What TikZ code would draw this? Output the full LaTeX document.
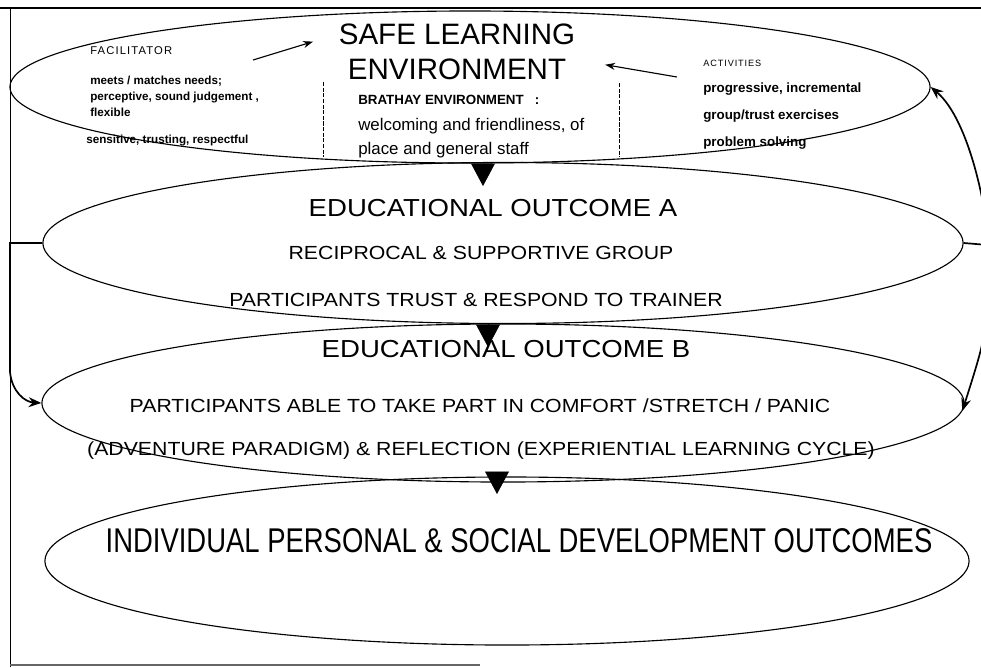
\documentclass[tikz,border=0pt]{standalone}
\usepackage{fontspec}
\setmainfont{Liberation Sans}
\newfontfamily\widefont[FakeStretch=1.12]{Liberation Sans}
\newfontfamily\narrowfont[FakeStretch=0.8]{Liberation Sans}
\usetikzlibrary{calc,arrows,arrows.meta,positioning,shapes.geometric}

\begin{document}
\begin{tikzpicture}[x=0.025cm,y=-0.025cm]
	\tikzstyle{oval} = [draw,ellipse,line width=0.8pt,inner sep=0pt]
	\tikzstyle{txt} = [inner sep=0pt,anchor=base]
	\tikzstyle{note} = [inner sep=0pt,anchor=base west]
	\tikzstyle{title} = [txt,font=\fontsize{21}{24}\selectfont]
	\tikzstyle{head} = [txt,font=\widefont\fontsize{17.5}{20}\selectfont]
	\tikzstyle{sub} = [txt,font=\widefont\fontsize{13.5}{16}\selectfont]
	\tikzstyle{small} = [note,font=\bfseries\fontsize{8.3}{10}\selectfont]
	\tikzstyle{caps} = [note,font=\addfontfeature{LetterSpace=10}\fontsize{8}{10}\selectfont]
	\tikzstyle{link} = [->,>={Stealth[length=9pt,width=7pt]},very thick]
	\tikzstyle{point} = [->,>={Stealth[length=7pt,width=5pt]},thick]
	\tikzstyle{drop} = [-{Triangle[width=17pt,length=16pt]}]
	\tikzstyle{sep} = [dash pattern=on 3pt off 1pt,thin]
	\useasboundingbox (0,0) rectangle (981,667);

	\draw[line width=1.6pt] (0,8) -- (981,8);
	\draw[line width=0.6pt] (10,8) -- (10,667);
	\draw[line width=0.8pt,black!60] (10,665) -- (480,665);

	\node[oval,minimum width=23cm,minimum height=3.8cm] (Safe) at (470,87) {};
	\node[oval,minimum width=23cm,minimum height=4.025cm] (OutA) at (503,243) {};
	\node[oval,minimum width=23.05cm,minimum height=3.95cm] (OutB) at (503,403) {};
	\node[oval,minimum width=23.1cm,minimum height=4.2cm] (OutC) at (507,561) {};

	\node[title] (SafeA) at (457,44) {SAFE LEARNING};
	\node[title] (SafeB) at (457,79) {ENVIRONMENT};
	\node[note,font=\bfseries\fontsize{9.5}{11}\selectfont] (Brathay) at (358,104) {BRATHAY ENVIRONMENT~~~:};
	\node[note,font=\fontsize{12}{14}\selectfont] (Welcome) at (358,130) {welcoming and friendliness, of};
	\node[note,font=\fontsize{12}{14}\selectfont] (Place) at (358,154) {place and general staff};

	\node[caps] (Facilitator) at (90,54) {FACILITATOR};
	\node[small] (Meets) at (90,84) {meets / matches needs;};
	\node[small] (Perceptive) at (90,100) {perceptive, sound judgement ,};
	\node[small] (Flexible) at (90,116) {flexible};
	\node[small] (Sensitive) at (86,143) {sensitive, trusting, respectful};

	\node[caps,font=\addfontfeature{LetterSpace=10}\fontsize{6.5}{8}\selectfont] (Activities) at (703,66) {ACTIVITIES};
	\node[small,font=\bfseries\fontsize{9.5}{11}\selectfont] (Progressive) at (703,92) {progressive, incremental};
	\node[small,font=\bfseries\fontsize{9.5}{11}\selectfont] (Group) at (703,119) {group/trust exercises};
	\node[small,font=\bfseries\fontsize{9.5}{11}\selectfont] (Problem) at (703,146) {problem solving};

	\node[head] (HeadA) at (493,216) {EDUCATIONAL OUTCOME A};
	\node[sub] (Reciprocal) at (481,259) {RECIPROCAL \& SUPPORTIVE GROUP};
	\node[sub] (Trust) at (476,306) {PARTICIPANTS TRUST \& RESPOND TO TRAINER};

	\node[head] (HeadB) at (506,357) {EDUCATIONAL OUTCOME B};
	\node[sub] (Able) at (480,412) {PARTICIPANTS ABLE TO TAKE PART IN COMFORT /STRETCH / PANIC};
	\node[sub] (Adventure) at (481,455) {(ADVENTURE PARADIGM) \& REFLECTION (EXPERIENTIAL LEARNING CYCLE)};

	\node[txt,font=\narrowfont\fontsize{24.4}{28}\selectfont] (Individual) at (519,552) {INDIVIDUAL PERSONAL \& SOCIAL DEVELOPMENT OUTCOMES};

	\draw[sep] (323,82) -- (323,157);
	\draw[sep] (619,83) -- (619,157);

	\coordinate (FacTail) at (253,60);
	\coordinate (ActTail) at (677,77);
	\draw[point,shorten >=19pt] (FacTail) -- (SafeA.west);
	\draw[point,shorten >=28pt] (ActTail) -- (SafeB.north east);

	\coordinate (T1) at (483,186);
	\coordinate (T2) at (488,347);
	\coordinate (T3) at (497,494);
	\draw[drop] (Safe.south -| T1) -- (T1);
	\draw[drop] (OutA.south -| T2) -- (T2);
	\draw[drop] (OutB.south -| T3) -- (T3);

	\coordinate (RA) at (988,245);
	\coordinate (LB) at (10,372);
	\draw[very thick] (OutA.east) -- (RA);
	\draw[link] (RA) .. controls (988,215) and (970,120) .. (Safe.east);
	\draw[link] (RA) .. controls (988,330) .. (OutB.-1);
	\draw[link] (OutA.west) -| (LB) .. controls (12,392) and (25,402) .. (OutB.west);
\end{tikzpicture}
\end{document}
